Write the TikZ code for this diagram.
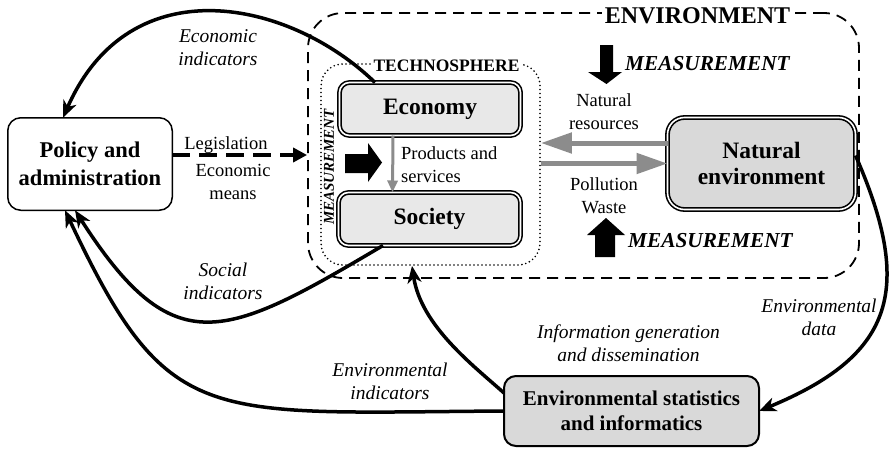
\documentclass[tikz,border=0pt]{standalone}
\usepackage{fontspec}
\setmainfont{Liberation Serif}
\usetikzlibrary{arrows.meta}

\definecolor{lightfill}{gray}{0.91}
\definecolor{darkfill}{gray}{0.85}
\definecolor{flowgray}{gray}{0.55}

\tikzstyle{sphere} = [rectangle, rounded corners=10pt, draw=black, line width=1.6pt,
	double=white, double distance=1.6pt, fill=lightfill, align=center,
	inner sep=0pt, outer sep=0pt, font=\fontsize{23.5}{26}\selectfont\bfseries]
\tikzstyle{office} = [rectangle, rounded corners=13pt, draw=black, line width=1.5pt,
	fill=white, align=center, inner sep=0pt, outer sep=0pt]
\tikzstyle{lbl} = [align=center, inner sep=0pt, font=\fontsize{18.5}{23}\selectfont]
\tikzstyle{ilbl} = [align=center, inner sep=0pt, font=\fontsize{19.5}{23}\selectfont\itshape]
\tikzstyle{measure} = [inner sep=0pt, font=\fontsize{21.3}{24}\selectfont\bfseries\itshape]
\tikzstyle{feedback} = [line width=3.5pt, -{Stealth[length=17pt,width=14pt,inset=5pt]}]
\tikzstyle{flow} = [draw=flowgray, line width=5pt, -{Triangle[length=31pt,width=20pt]}]

\begin{document}
\begin{tikzpicture}[x=1pt, y=-1pt]
\useasboundingbox (0,0) rectangle (894,450);

% outer frames
\node (env) [draw, line width=1.8pt, dash pattern=on 11pt off 7pt, rounded corners=35pt,
	minimum width=551pt, minimum height=265pt, inner sep=0pt] at (583.5,145.5) {};
\node (techno) [draw, line width=1.8pt, dash pattern=on 0pt off 4pt, line cap=round,
	rounded corners=22pt, minimum width=219pt, minimum height=201pt, inner sep=0pt] at (430.5,164.5) {};
\node (envtitle) [fill=white, inner sep=3pt, font=\fontsize{24}{24}\selectfont\bfseries] at (697.5,16) {ENVIRONMENT};
\node (technotitle) [fill=white, inner sep=2pt, font=\fontsize{17.5}{18}\selectfont\bfseries] at (446.5,66) {TECHNOSPHERE};

% boxes
\node (economy) [sphere, minimum width=181pt, minimum height=53pt] at (430,109) {Economy};
\node (society) [sphere, minimum width=182pt, minimum height=53pt] at (429.5,219) {Society};
\node (natural) [sphere, fill=darkfill, rounded corners=17pt, minimum width=188pt,
	minimum height=92pt] at (761.5,163.5) {Natural\\environment};
\node (policy) [office, minimum width=164.5pt, minimum height=92.5pt,
	font=\fontsize{22.5}{28}\selectfont\bfseries] at (90,164) {Policy and\\administration};
\node (stats) [office, fill=darkfill, line width=2pt, rounded corners=12pt, minimum width=255pt,
	minimum height=70pt, font=\fontsize{21}{25}\selectfont\bfseries] at (631.5,411)
	{Environmental statistics\\and informatics};

% measurement marks
\node (measvert) [measure, font=\fontsize{15}{15}\selectfont\bfseries\itshape, rotate=90] at (329,167) {MEASUREMENT};
\node (meastop) [measure, anchor=west] at (625,64) {MEASUREMENT};
\node (measbot) [measure, anchor=west] at (628,241) {MEASUREMENT};
\fill (345,154) -- (368,154) -- (368,143) -- (382,162.5) -- (368,182) -- (368,173) -- (345,173) -- cycle;
\fill (600,45) -- (613,45) -- (613,72) -- (622,72) -- (606.5,84) -- (588,72) -- (600,72) -- cycle;
\fill (595,257) -- (615,257) -- (615,235) -- (625,235) -- (606,218) -- (587,235) -- (595,235) -- cycle;

% material flows
\draw [flow, line width=3pt, -{Triangle[length=12pt,width=10pt]}]
	([xshift=-37pt]economy.south) -- ([xshift=-37pt]society.north);
\coordinate (restop) at ([yshift=20.5pt]natural.west);
\draw [flow] (restop) -- (restop -| techno.east);
\draw [flow] (natural.west -| techno.east) -- (natural.west);

\node (products) [lbl, align=left, anchor=west] at (401,164.5) {Products and\\services};
\node (resources) [lbl] at (604,111.5) {Natural\\resources};
\node (pollution) [lbl] at (604,195.5) {Pollution\\Waste};

% steering
\draw [line width=3.5pt, dash pattern=on 18pt off 9pt, -{Triangle[length=14pt,width=14pt]}]
	([yshift=9pt]policy.east) -- ([yshift=-9.5pt]env.west);
\node (legislation) [lbl] at (226,145) {Legislation};
\node (means) [lbl] at (233,182) {Economic\\means};

% indicator feedback
\draw [feedback] ([xshift=-55pt]economy.north) .. controls (290,0) and (130,-35) .. ([xshift=-27pt]policy.north);
\draw [feedback] ([xshift=-46.5pt]society.south) .. controls (225,339) and (174,365) .. ([xshift=-15pt]policy.south);
\draw [feedback] (stats.west) .. controls (203,413) and (168,429) .. ([xshift=-25pt]policy.south);
\draw [feedback] ([yshift=18pt]stats.west) .. controls (474,366) and (421,326) .. ([xshift=-18.5pt]techno.south);
\draw [feedback] ([yshift=8pt]natural.east) .. controls (916,293) and (890.6,356.5) .. (stats.east);

\node (econind) [ilbl] at (218,47.5) {Economic\\indicators};
\node (socind) [ilbl] at (223,281.5) {Social\\indicators};
\node (envind) [ilbl] at (390,381.5) {Environmental\\indicators};
\node (infogen) [ilbl] at (628.5,343.5) {Information generation\\and dissemination};
\node (envdata) [ilbl] at (819,317.5) {Environmental\\data};

\end{tikzpicture}
\end{document}
